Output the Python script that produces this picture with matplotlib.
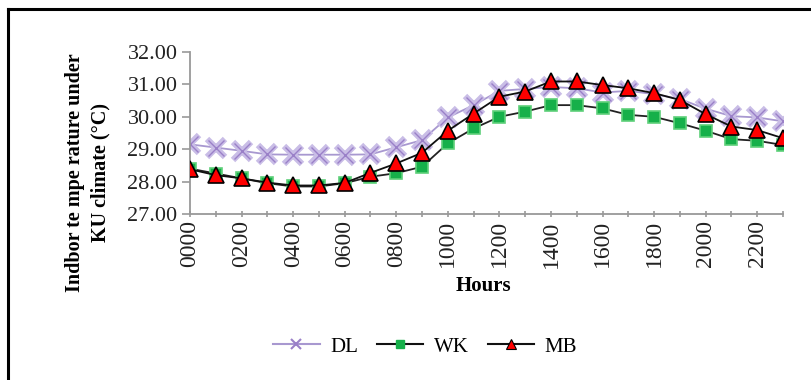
import matplotlib.pyplot as plt
from matplotlib.lines import Line2D

hours = ['0000', '0100', '0200', '0300', '0400', '0500', '0600', '0700',
         '0800', '0900', '1000', '1100', '1200', '1300', '1400', '1500',
         '1600', '1700', '1800', '1900', '2000', '2100', '2200', '2300']
dl = [29.15, 29.05, 28.95, 28.84, 28.83, 28.83, 28.83, 28.84,
      29.06, 29.28, 29.98, 30.36, 30.80, 30.86, 30.92, 30.88,
      30.75, 30.80, 30.70, 30.55, 30.25, 30.02, 29.98, 29.86]
wk = [28.40, 28.25, 28.10, 27.95, 27.85, 27.85, 27.95, 28.15,
      28.26, 28.46, 29.18, 29.64, 30.00, 30.16, 30.36, 30.36,
      30.26, 30.06, 30.00, 29.80, 29.57, 29.31, 29.26, 29.13]
mb = [28.38, 28.20, 28.10, 27.97, 27.88, 27.88, 27.96, 28.27,
      28.56, 28.89, 29.57, 30.10, 30.62, 30.78, 31.09, 31.09,
      30.98, 30.88, 30.73, 30.52, 30.08, 29.70, 29.59, 29.34]

plt.rcParams['font.family'] = ['Liberation Serif', 'DejaVu Serif']

fig = plt.figure(figsize=(8.11, 3.80), dpi=100)
W, H = 811, 380
ax = fig.add_axes([190 / W, 1 - 214 / H, (783 - 190) / W, (214 - 52) / H])

x = list(range(len(hours)))
dl_light = '#c9bde6'
dl_dark = '#9a80c8'

# DL: light thick cross with darker thin cross on top
ax.plot(x, dl, color='#a898d0', linewidth=1.3, marker='x', markersize=13,
        markeredgecolor=dl_light, markeredgewidth=4.5, zorder=2)
ax.plot(x, dl, linestyle='none', marker='x', markersize=12,
        markeredgecolor=dl_dark, markeredgewidth=1.0, zorder=2.1)

ax.plot(x, wk, color='#222222', linewidth=1.3, marker='s', markersize=9,
        markerfacecolor='#16b04a', markeredgecolor='#5fd07a',
        markeredgewidth=1.2, zorder=3)
ax.plot(x, mb, color='#111111', linewidth=1.3, marker='^', markersize=11,
        markerfacecolor='#ff0000', markeredgecolor='#000000',
        markeredgewidth=1.2, zorder=4)

ax.set_xlim(0, 23)
ax.set_ylim(27, 32)
ax.set_yticks([27, 28, 29, 30, 31, 32])
ax.set_yticklabels([f'{v:.2f}' for v in [27, 28, 29, 30, 31, 32]], fontsize=16)
ax.set_xticks(x[::2])
ax.set_xticklabels(hours[::2], rotation=90, fontsize=17)
ax.set_xticks(x, minor=True)

for side in ['top', 'right']:
    ax.spines[side].set_visible(False)
for side in ['left', 'bottom']:
    ax.spines[side].set_color('#999999')
    ax.spines[side].set_linewidth(1.3)
ax.tick_params(axis='y', colors='#999999', length=6, width=1.2,
               labelcolor='#222222', pad=3)
ax.tick_params(axis='x', which='both', colors='#999999', length=5, width=1.2,
               direction='inout', labelcolor='#222222', pad=2)

fig.text(483 / W, 1 - 286 / H, 'Hours', fontsize=15, fontweight='bold',
         ha='center', va='center')
fig.text(88 / W, 1 - 173 / H, 'Indbor te mpe rature under\nKU climate (°C)',
         fontsize=14.5, fontweight='bold', rotation=90, ha='center',
         va='center', multialignment='center', linespacing=1.35)

handles = [
    Line2D([], [], color='#a898d0', linewidth=1.5, marker='x', markersize=7,
           markeredgecolor=dl_dark, markeredgewidth=1.5),
    Line2D([], [], color='#111111', linewidth=1.5, marker='s', markersize=6,
           markerfacecolor='#16b04a', markeredgecolor='#16b04a'),
    Line2D([], [], color='#111111', linewidth=1.5, marker='^', markersize=7,
           markerfacecolor='#ff0000', markeredgecolor='#000000',
           markeredgewidth=0.8),
]
fig.legend(handles, ['DL', 'WK', 'MB'], loc='center',
           bbox_to_anchor=(425 / W, 1 - 347 / H), ncol=3, frameon=False,
           fontsize=15, handlelength=2.25, columnspacing=0.9, handletextpad=0.5)

# outer border: top and left edges only
fig.add_artist(Line2D([8 / W, 1], [1 - 9 / H, 1 - 9 / H], color='black',
                      linewidth=2.2, transform=fig.transFigure))
fig.add_artist(Line2D([8 / W, 8 / W], [0, 1 - 9 / H], color='black',
                      linewidth=2.2, transform=fig.transFigure))

fig.savefig('out.png', dpi=100)
